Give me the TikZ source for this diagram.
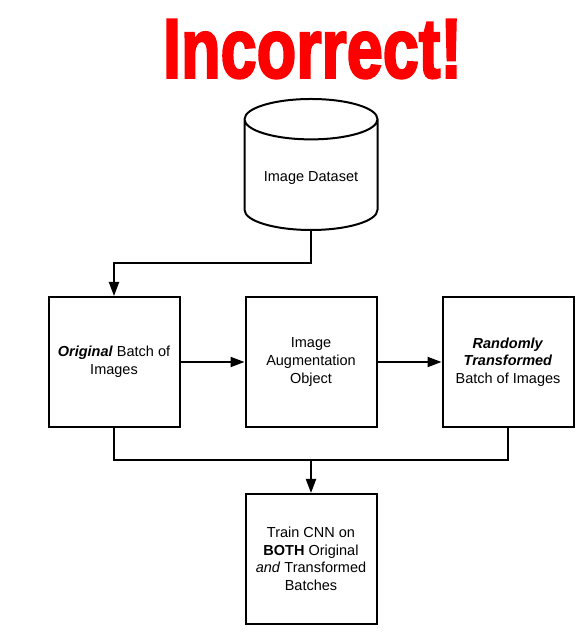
\documentclass[tikz,border=0pt]{standalone}
\usepackage{fontspec}
\usepackage{graphicx}
\setmainfont{Liberation Sans}
\newfontfamily\titlefont{Liberation Sans}[FakeBold=3]
\usetikzlibrary{positioning,shapes.geometric,arrows.meta,calc}

\begin{document}
\begin{tikzpicture}[x=1pt, y=1pt,
    every node/.style={font=\fontsize{14.5}{17.6}\selectfont, align=center},
    procbox/.style={draw, line width=2pt, minimum width=131pt, minimum height=130pt, inner sep=2pt},
    store/.style={draw, line width=2pt, cylinder, shape border rotate=90, aspect=0.4,
      minimum width=133pt, minimum height=131pt},
    flow/.style={line width=2pt, -{Triangle[length=14pt, width=10pt]}}]
    \useasboundingbox (0,0) rectangle (582,636);
    \node[text=red] (title) at (312.5,587) {\resizebox{299pt}{58pt}{\titlefont\bfseries Incorrect!}};
    \node[procbox] (aug) at (311,274) {Image\\Augmentation\\Object};
    \node[procbox, left=64pt of aug] (orig) {\textbf{\textit{Original}} Batch of\\Images};
    \node[procbox, right=64pt of aug] (rand) {\textbf{\textit{Randomly}}\\\textbf{\textit{Transformed}}\\Batch of Images};
    \node[procbox, below=65pt of aug] (train) {Train CNN on\\\textbf{BOTH} Original\\\textit{and} Transformed\\Batches};
    \node[store, above=65pt of aug] (data) {Image Dataset};
    % connectors
    \coordinate (fork) at ($(data.south)!.5!(aug.north)$);
    \coordinate (merge) at ($(aug.south)!.5!(train.north)$);
    \draw[flow] (data.south) -- (fork) -| (orig.north);
    \draw[flow] (orig) -- (aug);
    \draw[flow] (aug) -- (rand);
    \draw[line width=2pt] (orig.south) |- (merge) -| (rand.south);
    \draw[flow] (merge) -- (train.north);
\end{tikzpicture}
\end{document}
